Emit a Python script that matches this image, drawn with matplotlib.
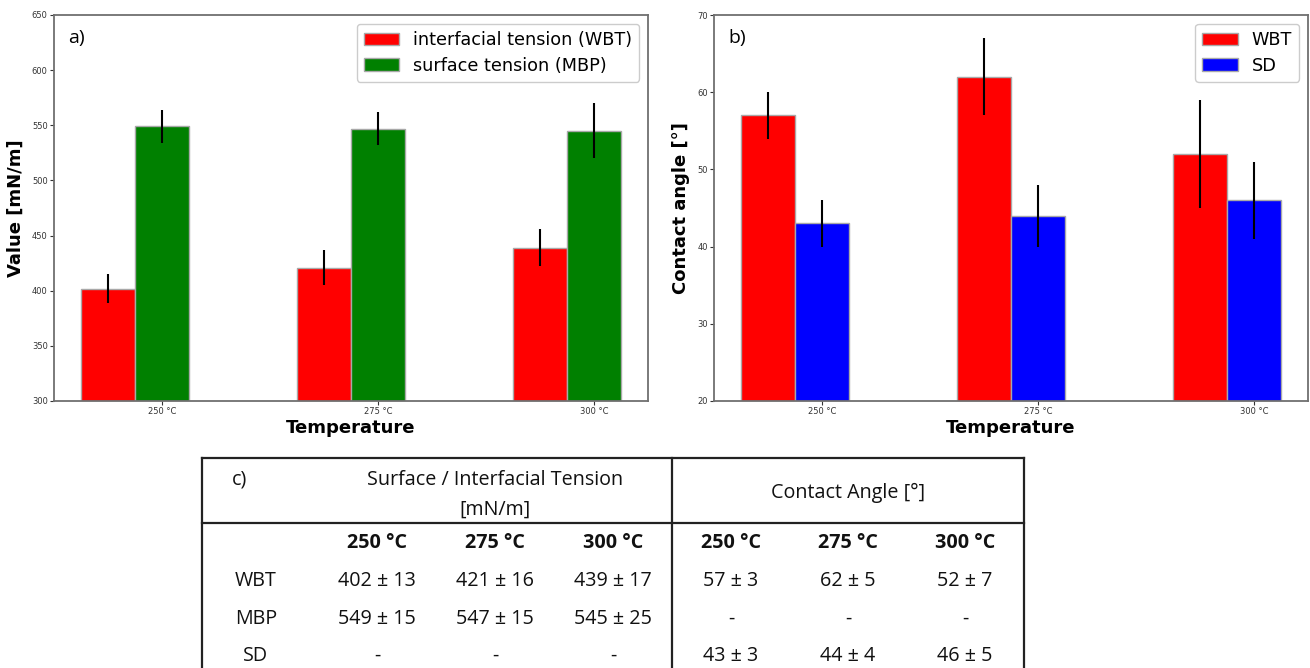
import matplotlib
matplotlib.use("Agg")
import matplotlib.pyplot as plt
import numpy as np
from matplotlib.lines import Line2D

# ---- data ----
temps = ['250 °C', '275 °C', '300 °C']
wbt_tension = [402, 421, 439]
wbt_tension_err = [13, 16, 17]
mbp_tension = [549, 547, 545]
mbp_tension_err = [15, 15, 25]
wbt_angle = [57, 62, 52]
wbt_angle_err = [3, 5, 7]
sd_angle = [43, 44, 46]
sd_angle_err = [3, 4, 5]

W, H = 1310, 668
fig = plt.figure(figsize=(W / 100, H / 100), dpi=100)

def px_rect(x0, y0, x1, y1):
    return [x0 / W, 1 - y1 / H, (x1 - x0) / W, (y1 - y0) / H]

ax1 = fig.add_axes(px_rect(54, 15, 648, 401))
ax2 = fig.add_axes(px_rect(714, 15, 1308, 401))

x = np.arange(len(temps))
w = 0.25
edge = '#a8a8a8'
ekw = dict(ecolor='black', elinewidth=1.5, capsize=0)

def style(ax):
    for s in ax.spines.values():
        s.set_color('#707070')
        s.set_linewidth(1.3)
    ax.tick_params(labelsize=6, colors='#333333', length=3, pad=1.5)
    ax.set_xticks(x + w)
    ax.set_xticklabels(temps)
    ax.set_xlabel('Temperature', fontsize=13, fontweight='bold', labelpad=2)

ax1.bar(x, wbt_tension, w, yerr=wbt_tension_err, color='red', edgecolor=edge,
        linewidth=1, label='interfacial tension (WBT)', error_kw=ekw)
ax1.bar(x + w, mbp_tension, w, yerr=mbp_tension_err, color='green', edgecolor=edge,
        linewidth=1, label='surface tension (MBP)', error_kw=ekw)
ax1.set_ylim(300, 650)
ax1.set_yticks(np.arange(300, 651, 50))
ax1.set_ylabel('Value [mN/m]', fontsize=13, fontweight='bold', labelpad=5)
style(ax1)
ax1.legend(loc='upper right', fontsize=12.7, handlelength=2.0, borderpad=0.4,
           labelspacing=0.45, edgecolor='#c0c0c0')
ax1.text(0.024, 0.94, 'a)', transform=ax1.transAxes, fontsize=14, family='Open Sans',
         va='center', ha='left')

ax2.bar(x, wbt_angle, w, yerr=wbt_angle_err, color='red', edgecolor=edge,
        linewidth=1, label='WBT', error_kw=ekw)
ax2.bar(x + w, sd_angle, w, yerr=sd_angle_err, color='blue', edgecolor=edge,
        linewidth=1, label='SD', error_kw=ekw)
ax2.set_ylim(20, 70)
ax2.set_yticks(np.arange(20, 71, 10))
ax2.set_ylabel('Contact angle [°]', fontsize=13, fontweight='bold', labelpad=5)
style(ax2)
ax2.legend(loc='upper right', fontsize=12.7, handlelength=2.0, borderpad=0.4,
           labelspacing=0.45, edgecolor='#c0c0c0')
ax2.text(0.024, 0.94, 'b)', transform=ax2.transAxes, fontsize=14, family='Open Sans',
         va='center', ha='left')

# ---- table (c) ----
def fx(px):
    return px / W

def fy(py):
    return 1 - py / H

lw = 1.6
for (xa, ya, xb, yb) in [(201.5, 458, 1024, 458), (201.5, 522.5, 1024, 522.5),
                         (201.5, 458, 201.5, 668), (1024, 458, 1024, 668),
                         (671.5, 458, 671.5, 668)]:
    fig.add_artist(Line2D([fx(xa), fx(xb)], [fy(ya), fy(yb)], color='#222222',
                          lw=lw, transform=fig.transFigure))

tfont = dict(family='Open Sans', fontsize=14.2, color='#111111', va='baseline', ha='center')
fig.text(fx(232), fy(485), 'c)', **{**tfont, 'ha': 'left'})
fig.text(fx(495), fy(485), 'Surface / Interfacial Tension', **tfont)
fig.text(fx(495), fy(515), '[mN/m]', **tfont)
fig.text(fx(848), fy(498), 'Contact Angle [°]', **tfont)

cols_left = [377, 495, 613]
cols_right = [731, 848, 965]
for c, t in zip(cols_left + cols_right, temps + temps):
    fig.text(fx(c), fy(548.5), t, fontweight='bold', **tfont)

def fmt(v, e):
    return f'{v} ± {e}'

rows = [
    ('WBT', [fmt(v, e) for v, e in zip(wbt_tension, wbt_tension_err)],
            [fmt(v, e) for v, e in zip(wbt_angle, wbt_angle_err)]),
    ('MBP', [fmt(v, e) for v, e in zip(mbp_tension, mbp_tension_err)], ['-'] * 3),
    ('SD', ['-'] * 3, [fmt(v, e) for v, e in zip(sd_angle, sd_angle_err)]),
]
row_y = [586, 624, 661]
for (name, left_vals, right_vals), ry in zip(rows, row_y):
    fig.text(fx(256), fy(ry), name, **tfont)
    for c, v in zip(cols_left, left_vals):
        fig.text(fx(c), fy(ry), v, **tfont)
    for c, v in zip(cols_right, right_vals):
        fig.text(fx(c), fy(ry), v, **tfont)

fig.savefig('out.png', dpi=100)
